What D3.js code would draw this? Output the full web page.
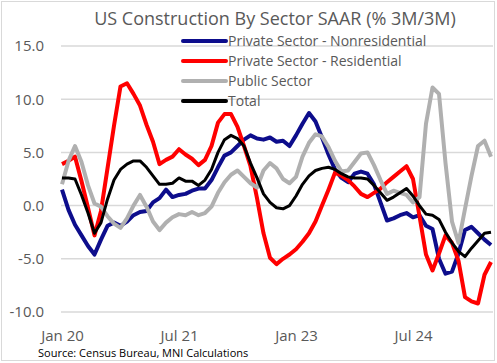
<html>
<head>
  <meta charset="utf-8">
  <title>US Construction By Sector</title>
  <script src="https://d3js.org/d3.v7.min.js"></script>
  <style>
    body { margin: 0; background: #fff; }
    text { font-family: "Open Sans", "Liberation Sans", sans-serif; }
  </style>
</head>
<body>
  <svg id="chart" width="497" height="363"></svg>
  <script>
    // monthly, Jan 2020 .. Jul 2025
    var months = d3.timeMonth.range(new Date(2020, 0, 1), new Date(2025, 7, 1));
    var tickLabels = ["Jan 20", "Jul 21", "Jan 23", "Jul 24"];
    var yTicks = [-10, -5, 0, 5, 10, 15];

    var nonres = [1.5, -0.4, -1.8, -2.8, -3.8, -4.6, -3.2, -1.9, -1.6, -1.9,
      -1.5, -0.9, -0.6, -0.5, 0.3, 0.7, 1.5, 0.8, 1.0, 1.1,
      1.4, 1.6, 1.6, 2.4, 3.6, 4.7, 5.0, 5.6, 6.2, 6.6,
      6.3, 6.2, 6.4, 6.0, 6.1, 5.6, 6.6, 7.7, 8.7, 7.9,
      6.4, 4.8, 3.4, 2.6, 2.2, 3.0, 3.2, 3.0, 2.0, 0.3,
      -1.4, -1.2, -0.9, -0.7, -1.1, -0.9, -1.9, -2.2, -5.0, -6.4,
      -6.2, -4.5, -2.3, -2.0, -2.6, -3.2, -3.7];

    var resid = [3.9, 4.2, 4.6, 2.3, -0.2, -2.8, -0.5, 3.5, 7.5, 11.2,
      11.5, 10.5, 9.4, 7.6, 6.0, 3.9, 4.3, 4.6, 5.3, 4.8,
      4.4, 3.8, 4.3, 5.6, 7.8, 8.6, 8.6, 7.4, 5.6, 3.7,
      0.7, -2.6, -4.9, -5.5, -5.0, -4.6, -4.1, -3.4, -2.6, -1.5,
      0.0, 1.5, 3.1, 2.8, 2.4, 1.8, 1.1, 0.8, 1.2, 1.6,
      2.2, 2.7, 3.2, 3.7, 2.5, -1.0, -4.6, -6.1, -4.5, -2.8,
      -3.5, -5.2, -8.6, -9.0, -9.2, -6.5, -5.3];

    var publicSec = [2.0, 4.2, 5.6, 4.1, 1.9, 0.2, -0.1, -1.0, -1.7, -2.1,
      -1.2, 0.0, 1.0, -0.1, -1.5, -2.3, -1.6, -1.1, -0.8, -0.9,
      -0.6, -0.9, -0.7, -0.1, 1.2, 2.2, 2.9, 3.3, 2.7, 2.1,
      1.7, 3.3, 4.0, 3.5, 2.5, 2.1, 2.7, 4.6, 5.9, 6.7,
      6.5, 5.5, 4.2, 3.2, 3.3, 4.1, 4.9, 5.0, 3.8, 2.4,
      1.1, 1.4, 1.2, 1.0, 0.3, 0.8, 7.7, 11.1, 10.5, 4.0,
      -1.5, -3.5, -0.3, 2.8, 5.6, 6.1, 4.6];

    var total = [2.6, 2.6, 2.5, 1.0, -0.7, -2.6, -1.6, 0.6, 2.4, 3.4,
      3.9, 4.2, 4.2, 3.6, 2.8, 2.0, 2.0, 2.1, 2.6, 2.3,
      2.3, 1.9, 2.4, 3.4, 5.0, 6.2, 6.6, 6.3, 5.6, 4.0,
      2.6, 1.1, 0.3, -0.2, -0.3, 0.0, 0.9, 2.0, 2.8, 3.3,
      3.5, 3.6, 3.4, 3.0, 2.7, 2.6, 2.6, 2.5, 1.9, 1.2,
      0.5, 0.8, 1.2, 1.6, 0.9, 0.0, -0.8, -0.9, -1.3, -2.5,
      -3.5, -4.3, -4.8, -4.0, -3.3, -2.6, -2.5];

    var seriesNames = ["Private Sector - Nonresidential", "Private Sector - Residential", "Public Sector", "Total"];
    var seriesValues = [nonres, resid, publicSec, total];
    var seriesColors = ["#0d0d8c", "#ff0000", "#b0b0b0", "#000000"];
    var seriesWidths = [4, 4, 4, 3];

    var fmt = d3.timeFormat("%b %y");
    var svg = d3.select("#chart");

    // outer border
    svg.append("rect")
      .attr("x", 1.5).attr("y", 1.5)
      .attr("width", 493).attr("height", 359)
      .attr("fill", "none")
      .attr("stroke", "#d9d9d9");

    var x = d3.scalePoint()
      .domain(months.map(fmt))
      .range([62, 491]);

    var y = d3.scaleLinear()
      .domain([-10, 15])
      .range([312, 46]);

    // gridlines
    svg.append("g")
      .selectAll("line")
      .data(yTicks)
      .enter()
      .append("line")
      .attr("x1", 61).attr("x2", 493)
      .attr("y1", d => y(d)).attr("y2", d => y(d))
      .attr("stroke", "#d9d9d9")
      .attr("stroke-width", 1.5);

    var yAxis = svg.append("g")
      .attr("transform", "translate(44,0)")
      .call(d3.axisLeft(y).tickValues(yTicks).tickSize(0).tickPadding(0)
        .tickFormat(d => d.toFixed(1)));
    yAxis.select(".domain").remove();
    yAxis.selectAll("text")
      .attr("fill", "#595959")
      .style("font-size", "15px");

    var xAxis = svg.append("g")
      .attr("transform", "translate(0,327)")
      .call(d3.axisBottom(x).tickValues(tickLabels).tickSize(0).tickPadding(0));
    xAxis.select(".domain").remove();
    xAxis.selectAll("text")
      .attr("fill", "#595959")
      .attr("dy", "0.9em")
      .style("font-size", "15px");

    var line = d3.line()
      .x((d, i) => x(fmt(months[i])))
      .y(d => y(d));

    svg.append("g")
      .selectAll("path")
      .data(seriesValues)
      .enter()
      .append("path")
      .attr("d", d => line(d))
      .attr("fill", "none")
      .attr("stroke", (d, i) => seriesColors[i])
      .attr("stroke-width", (d, i) => seriesWidths[i])
      .attr("stroke-linejoin", "round");

    // legend
    var legend = svg.append("g")
      .selectAll("g")
      .data(seriesNames)
      .enter()
      .append("g")
      .attr("transform", (d, i) => "translate(183," + (41 + i * 20) + ")");
    legend.append("line")
      .attr("x1", 0).attr("x2", 43)
      .attr("stroke", (d, i) => seriesColors[i])
      .attr("stroke-width", 4)
      .attr("stroke-linecap", "round");
    legend.append("text")
      .attr("x", 45)
      .attr("dy", "0.35em")
      .attr("fill", "#595959")
      .style("font-size", "14px")
      .text(d => d);

    svg.append("text")
      .attr("x", 275).attr("y", 25)
      .attr("text-anchor", "middle")
      .attr("fill", "#595959")
      .style("font-size", "18px")
      .text("US Construction By Sector SAAR (% 3M/3M)");

    svg.append("text")
      .attr("x", 38).attr("y", 357)
      .attr("fill", "#000")
      .style("font-size", "11px")
      .text("Source: Census Bureau, MNI Calculations");
  </script>
</body>
</html>
